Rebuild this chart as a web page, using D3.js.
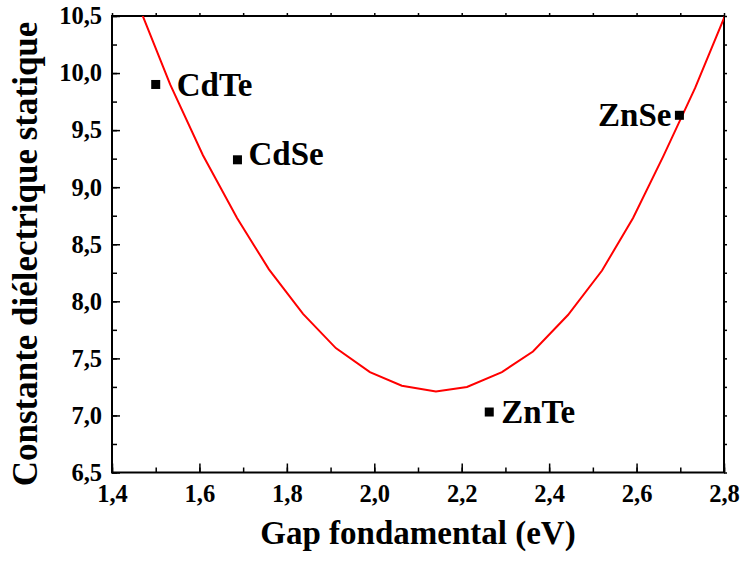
<!DOCTYPE html>
<html>
<head>
<meta charset="utf-8">
<script src="https://cdn.jsdelivr.net/npm/d3@7"></script>
<style>
  body { margin: 0; background: #fff; }
</style>
</head>
<body>
<div id="chart"></div>
<script>
// Data
var gap = [1.46, 1.533, 1.608, 1.686, 1.759, 1.837, 1.912, 1.990, 2.063, 2.141, 2.212, 2.292, 2.363, 2.443, 2.521, 2.592, 2.661, 2.734, 2.802]
var epsilon = [10.6, 9.90, 9.28, 8.73, 8.28, 7.89, 7.59, 7.38, 7.26, 7.21, 7.25, 7.38, 7.56, 7.88, 8.27, 8.73, 9.27, 9.87, 10.50]

var compounds = ['CdTe', 'CdSe', 'ZnTe', 'ZnSe']
var compoundGap = [1.50, 1.687, 2.263, 2.698]
var compoundEps = [9.90, 9.24, 7.03, 9.63]

var xTicks = [1.4, 1.6, 1.8, 2.0, 2.2, 2.4, 2.6, 2.8]
var yTicks = [6.5, 7.0, 7.5, 8.0, 8.5, 9.0, 9.5, 10.0, 10.5]

var width = 742
var height = 567
var margin = { top: 16, right: 18, bottom: 94.5, left: 112 }
var serif = '"Liberation Serif", Tinos, "Times New Roman", Times, "DejaVu Serif", serif'

// label placement next to each square: [dx, dy, anchor]
var labelPos = {
  CdTe: [21, 12, 'start'],
  CdSe: [11, 5, 'start'],
  ZnTe: [12, 11, 'start'],
  ZnSe: [-8, 11, 'end']
}

var svg = d3.select("#chart")
  .append("svg")
  .attr("width", width)
  .attr("height", height)
  .style("font-family", serif)
  .style("font-weight", "bold")

var xScale = d3.scaleLinear()
  .domain([1.4, 2.8])
  .range([margin.left, width - margin.right])

var yScale = d3.scaleLinear()
  .domain([6.5, 10.5])
  .range([height - margin.bottom, margin.top])

var comma = d => d3.format(".1f")(d).replace('.', ',')

var xMinor = d3.range(1.4, 2.85, 0.1)
var yMinor = d3.range(6.5, 10.55, 0.25)

// minor ticks
svg.append("g")
  .attr("transform", `translate(0,${yScale(6.5)})`)
  .call(d3.axisBottom(xScale).tickValues(xMinor).tickSize(-5).tickFormat(""))
  .call(g => g.select(".domain").remove())
  .selectAll("line").attr("stroke-width", 1.5)

svg.append("g")
  .attr("transform", `translate(${xScale(1.4)},0)`)
  .call(d3.axisLeft(yScale).tickValues(yMinor).tickSize(-5).tickFormat(""))
  .call(g => g.select(".domain").remove())
  .selectAll("line").attr("stroke-width", 1.5)

// top and right small outward ticks
svg.append("g")
  .attr("transform", `translate(0,${yScale(10.5)})`)
  .call(d3.axisTop(xScale).tickValues(xMinor).tickSize(3).tickFormat(""))
  .call(g => g.select(".domain").remove())
  .selectAll("line").attr("stroke-width", 1.5)

svg.append("g")
  .attr("transform", `translate(${xScale(2.8)},0)`)
  .call(d3.axisRight(yScale).tickValues(yMinor).tickSize(3).tickFormat(""))
  .call(g => g.select(".domain").remove())
  .selectAll("line").attr("stroke-width", 1.5)

// major ticks + labels
svg.append("g")
  .attr("transform", `translate(0,${yScale(6.5)})`)
  .call(d3.axisBottom(xScale).tickValues(xTicks).tickSize(-9).tickPadding(12.5).tickFormat(comma))
  .attr("font-family", serif)
  .call(g => g.select(".domain").remove())
  .call(g => g.selectAll("line").attr("stroke-width", 1.5))
  .selectAll("text")
  .style("font-family", serif)
  .style("font-weight", "bold")
  .style("font-size", "24.5px")
  .style("fill", "black")

svg.append("g")
  .attr("transform", `translate(${xScale(1.4)},0)`)
  .call(d3.axisLeft(yScale).tickValues(yTicks).tickSize(-8).tickPadding(10).tickFormat(comma))
  .attr("font-family", serif)
  .call(g => g.select(".domain").remove())
  .call(g => g.selectAll("line").attr("stroke-width", 1.5))
  .selectAll("text")
  .style("font-family", serif)
  .style("font-weight", "bold")
  .style("font-size", "24.5px")
  .style("fill", "black")

// frame
svg.append("rect")
  .attr("x", xScale(1.4))
  .attr("y", yScale(10.5))
  .attr("width", xScale(2.8) - xScale(1.4))
  .attr("height", yScale(6.5) - yScale(10.5))
  .attr("fill", "none")
  .attr("stroke", "black")
  .attr("stroke-width", 2)

svg.append("clipPath")
  .attr("id", "plot-clip")
  .append("rect")
  .attr("x", xScale(1.4))
  .attr("y", yScale(10.5))
  .attr("width", xScale(2.8) - xScale(1.4))
  .attr("height", yScale(6.5) - yScale(10.5))

// fitted curve
var line = d3.line()
  .x((d, i) => xScale(gap[i]))
  .y(d => yScale(d))

svg.append("path")
  .datum(epsilon)
  .attr("clip-path", "url(#plot-clip)")
  .attr("d", line)
  .attr("fill", "none")
  .attr("stroke", "#ff0000")
  .attr("stroke-width", 2)

// compound points
svg.selectAll("pts")
  .data(compounds)
  .enter()
  .append("rect")
  .attr("x", (d, i) => xScale(compoundGap[i]) - 4.5)
  .attr("y", (d, i) => yScale(compoundEps[i]) - 4.5)
  .attr("width", 9)
  .attr("height", 9)
  .style("fill", "black")

svg.selectAll("lbls")
  .data(compounds)
  .enter()
  .append("text")
  .attr("x", (d, i) => xScale(compoundGap[i]) + labelPos[d][0])
  .attr("y", (d, i) => yScale(compoundEps[i]) + labelPos[d][1])
  .attr("text-anchor", d => labelPos[d][2])
  .text(d => d)
  .style("font-family", serif)
  .style("font-size", "33px")
  .style("fill", "black")

// axis titles
svg.append("text")
  .attr("x", (xScale(1.4) + xScale(2.8)) / 2)
  .attr("y", 544)
  .attr("text-anchor", "middle")
  .style("font-family", serif)
  .style("font-size", "33px")
  .text("Gap fondamental (eV)")

svg.append("text")
  .attr("transform", "translate(37,254) rotate(-90)")
  .attr("text-anchor", "middle")
  .style("font-family", serif)
  .style("font-size", "35px")
  .text("Constante diélectrique statique")
</script>
</body>
</html>
